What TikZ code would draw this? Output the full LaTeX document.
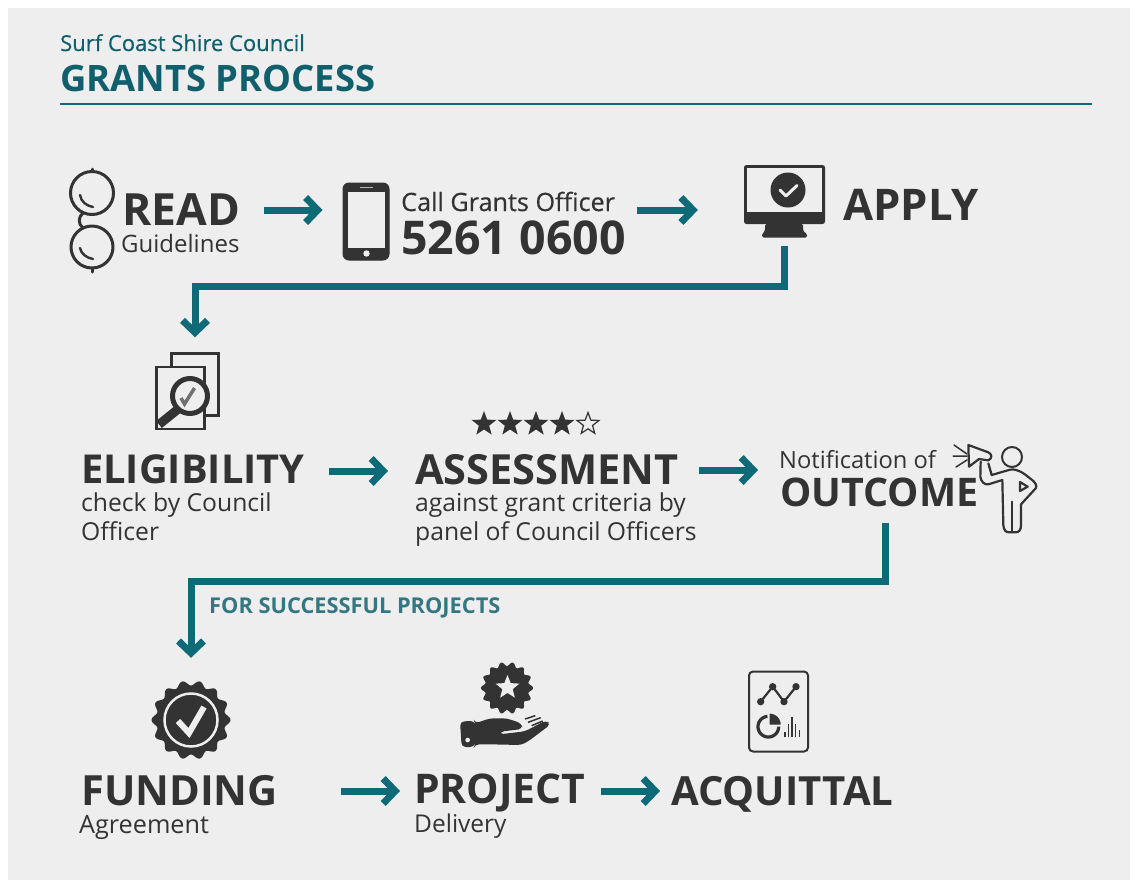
\documentclass[tikz,border=0pt]{standalone}
\usepackage{fontspec}
\usepackage{xcolor}
\usetikzlibrary{arrows.meta,shapes.geometric}
\setmainfont{Open Sans}
\newfontfamily\medfont[FakeBold=0.5]{Open Sans}
\newcommand{\fsz}[1]{\fontsize{#1}{#1}\selectfont}
\definecolor{panelgrey}{HTML}{EEEEEE}
\definecolor{darkink}{HTML}{333333}
\definecolor{tealline}{HTML}{0E6A77}
\definecolor{tealtext}{HTML}{0F5F6C}
\tikzset{
  headword/.style={anchor=west,inner sep=0pt,text depth=0pt,text=darkink,font=\bfseries\fsz{#1}},
  subword/.style={anchor=base west,inner sep=0pt,text=darkink,font=\fsz{#1}},
  flowarrow/.style={draw=tealline,line width=7pt,-{Straight Barb[length=12pt,width=25pt,line width=7pt]}},
  inkline/.style={draw=darkink,line width=#1,line cap=round,line join=round},
  ratestar/.style={star,star points=5,star point ratio=2.4,minimum size=26pt,inner sep=0pt},
}
\begin{document}
\begin{tikzpicture}[x=1pt,y=-1pt]
      \useasboundingbox (0,0) rectangle (1137,887);
      \fill[white] (0,0) rectangle (1137,887);
      \fill[panelgrey] (8,8) rectangle (1130,880);

      \node[anchor=base west,inner sep=0pt,text=tealtext,font=\medfont\fsz{22}] (council) at (60,51) {Surf Coast Shire Council};
      \node[anchor=base west,inner sep=0pt,text=tealtext,font=\bfseries\fsz{36.4}] (title) at (60,91) {GRANTS PROCESS};
      \draw[tealline,line width=1.5pt] (title.base west |- 0,104) -- (1092,104);

      \node[headword=44.4] (read) at (122,210) {READ};
      \node[subword=24] (guide) at (121,252) {Guidelines};
      \node[draw=darkink,fill=darkink,line width=1pt,rounded corners=6pt,minimum width=46pt,minimum height=77pt,inner sep=0pt] (phone) at (366,221.5) {};
      \node[subword=25,font=\medfont\fsz{25.2}] (call) at (401,211) {Call Grants Officer};
      \node[anchor=base west,inner sep=0pt,text=darkink,font=\bfseries\fsz{46.5}] (number) at (401,254) {5261 0600};
      \node[fill=darkink,rounded corners=2.5pt,minimum width=81pt,minimum height=59pt,inner sep=0pt] (monitor) at (784.5,194.5) {};
      \node[headword=43.6] (apply) at (843,205) {APPLY};

      \node[draw=darkink,fill=panelgrey,line width=2.5pt,minimum width=47pt,minimum height=62pt,inner sep=0pt] (docs) at (195,384.5) {};
      \node[headword=39.8] (eligibility) at (81,469) {ELIGIBILITY};
      \node[subword=24.7] (check) at (81,511) {check by Council};
      \node[subword=24.7] (officer) at (81,540) {Officer};
      \foreach \n/\sx/\sfill in {1/484/darkink,2/510/darkink,3/536/darkink,4/562/darkink}
        \node[ratestar,fill=\sfill] (star\n) at (\sx,424) {};
      \node[ratestar,draw=darkink,line width=1.2pt,minimum size=23pt] (star5) at (588,424) {};
      \node[headword=41.5] (assess) at (415,469) {ASSESSMENT};
      \node[subword=24.7] (against) at (415,511) {against grant criteria by};
      \node[subword=24.7] (panel) at (415,540) {panel of Council Officers};
      \node[subword=23.7] (notif) at (779,468) {Notification of};
      \node[headword=39.4] (outcome) at (780,492) {OUTCOME};

      \node[anchor=base west,inner sep=0pt,text=tealtext!85!white,font=\bfseries\fsz{21.8}] (success) at (209,613) {FOR SUCCESSFUL PROJECTS};
      \node[circle,minimum size=76pt,inner sep=0pt] (seal) at (191,720) {};
      \node[headword=41.6] (funding) at (81,790) {FUNDING};
      \node[subword=25.2] (agreement) at (79,833) {Agreement};
      \node[headword=40.9] (project) at (414,789) {PROJECT};
      \node[subword=24.5] (delivery) at (414,832) {Delivery};
      \node[draw=darkink,line width=2pt,rounded corners=4pt,minimum width=59pt,minimum height=80pt,inner sep=0pt] (report) at (778.5,711.5) {};
      \node[headword=40.2] (acquittal) at (671,791) {ACQUITTAL};

      \draw[flowarrow] ([xshift=24pt]read.east) -- ([xshift=-20pt]read.east -| phone.west);
      \draw[flowarrow] ([xshift=22pt]call.east |- read.east) -- ([xshift=-46pt]read.east -| monitor.west);
      \draw[flowarrow] ([xshift=24pt,yshift=-2pt]eligibility.east) -- ([xshift=-27pt,yshift=-2pt]eligibility.east -| assess.west);
      \draw[flowarrow] ([xshift=20pt,yshift=-1pt]assess.east) -- ([xshift=-21pt,yshift=-1pt]assess.east -| notif.west);
      \draw[flowarrow] ([xshift=63pt,yshift=-1pt]funding.east) -- ([xshift=-14pt,yshift=-1pt]funding.east -| project.west);
      \draw[flowarrow] ([xshift=15pt,yshift=-2pt]project.east) -- ([xshift=-11pt,yshift=-2pt]project.east -| acquittal.west);
      \draw[flowarrow,shorten >=15pt] ([yshift=-22pt]monitor.south) -- ++(0,40) -| (docs.north);
      \draw[flowarrow,shorten >=24pt] ([xshift=6.5pt,yshift=-17pt]outcome.south) -- ++(0,58) -| (seal.north);

      \draw[inkline=3pt] (92,193) circle (21.5) (92,247) circle (21);
      \draw[inkline=3pt] (92,171.5) -- (92,169) (92,268) -- (92,272);
      \draw[inkline=3pt] (83,213) .. controls (78,217) and (78,224) .. (83,228);
      \draw[inkline=2.4pt] (80,195) .. controls (81,202) and (87,206) .. (93,207);
      \draw[inkline=2.4pt] (80,248) .. controls (81,254) and (87,258) .. (93,259);

      \fill[panelgrey] (347.5,191.5) rectangle (385,247.5);
      \draw[panelgrey!70!darkink,line width=1pt] (360,187.5) -- (373,187.5);
      \fill[panelgrey] (366.5,253.5) circle (3.2);

      \fill[panelgrey] (747,167.5) rectangle (822,212);
      \fill[darkink,rounded corners=1.5pt] (765,224) -- (803,224) -- (803,231) -- (807,234) -- (807,237.5) -- (762,237.5) -- (762,234) -- (765,231) -- cycle;
      \fill[darkink] (788,190) circle (17.5);
      \draw[panelgrey,line width=3pt,line cap=round,line join=round] (780,190) -- (786,196) -- (797,185.5);

      \draw[draw=darkink,fill=panelgrey,line width=2.5pt] (156.5,367) rectangle (204.5,429);
      \draw[inkline=9pt,line cap=butt] (177,410) -- (159,424.5);
      \draw[draw=darkink,fill=panelgrey,line width=5pt] (190,396) circle (17.5);
      \draw[darkink!70,line width=3.5pt] (181,398) -- (184.5,404) -- (194.5,388);

      \draw[inkline=1.5pt] (954,445) -- (967,454) (953,456) -- (967,456) (956,467) -- (967,460);
      \draw[inkline=2pt] (1012,457) circle (10);
      \begin{scope}[shift={(945,435)},scale=1/3]
        \draw[inkline=2.2pt] (70,30) -- (130,52) .. controls (142,58) and (142,70) .. (130,76) -- (102,72) -- (72,95) -- cycle;
        \draw[inkline=2.2pt] (107,80) -- (106,125) .. controls (108,140) and (118,150) .. (130,148) -- (172,135) -- (175,270) .. controls (176,285) and (182,292) .. (192,292) -- (212,292) .. controls (222,292) and (228,285) .. (228,270) -- (228,208) -- (272,160) .. controls (278,152) and (270,140) .. (255,130) .. controls (240,118) and (220,100) .. (195,104) -- (140,120) -- (130,85);
        \draw[inkline=2.2pt] (200,200) -- (200,291);
        \draw[inkline=2.2pt] (225,141) -- (248,155) -- (225,168) -- cycle;
      \end{scope}

      \fill[darkink,samples=224,domain=0:360,smooth] plot ({191+(37+2.5*cos(14*\x))*cos(\x)},{720+(37+2.5*cos(14*\x))*sin(\x)}) -- cycle;
      \draw[panelgrey,line width=2.5pt] (191,720) circle (26.5);
      \draw[panelgrey,line width=6pt,line join=miter] (178,721) -- (189,733) -- (204,707);

      \fill[darkink,samples=224,domain=0:360,smooth] plot ({507+(24+2*cos(14*\x))*cos(\x)},{688+(24+2*cos(14*\x))*sin(\x)}) -- cycle;
      \node[ratestar,star point ratio=2.3,fill=panelgrey,minimum size=25pt] (badgestar) at (507.5,687.5) {};
      \begin{scope}[shift={(450,655)},scale=1/3]
        \fill[darkink,rounded corners=4pt] (30,200) -- (72,197) -- (75,205) -- (120,190) -- (170,190) -- (215,205) -- (217,222) -- (150,230) -- (148,238) -- (225,229) -- (288,196) -- (302,208) -- (240,255) -- (215,270) -- (120,268) -- (75,268) -- (72,276) -- (35,276) -- cycle;
        \fill[panelgrey] (53,255) circle (7);
        \draw[darkink,line width=1.5pt] (225,192) -- (256,182) (234,202) -- (272,188) (245,212) -- (278,198);
      \end{scope}

      \begin{scope}[shift={(740,665)},scale=1/3]
        \draw[inkline=2.2pt] (62,110) -- (98,65) -- (132,110) -- (168,65);
        \fill[darkink] (62,110) circle (11) (98,65) circle (11) (132,110) circle (11) (168,65) circle (11);
        \draw[darkink,line width=3.2pt,samples=60,domain=0:265] plot ({85+31*cos(\x)},{185+31*sin(\x)});
        \fill[darkink,samples=30,domain=-90:0] (89,179) -- plot ({89+33*cos(\x)},{179+33*sin(\x)}) -- cycle;
        \draw[darkink,line width=1.4pt] (135,217) -- (135,202) (145,217) -- (145,178) (156,217) -- (156,155) (167,217) -- (167,178) (178,217) -- (178,195);
      \end{scope}
    \end{tikzpicture}
\end{document}
